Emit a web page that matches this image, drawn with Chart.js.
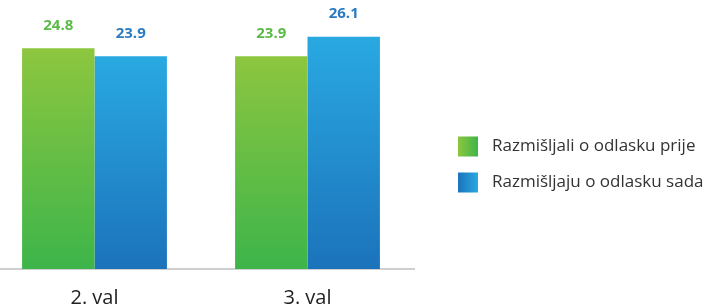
<!DOCTYPE html>
<html>
<head>
<meta charset="utf-8">
<script src="https://cdn.jsdelivr.net/npm/chart.js@4"></script>
<style>
  html, body { margin: 0; padding: 0; background: #fff; overflow: hidden; }
  .wrap { width: 716px; height: 307px; position: relative; margin-left: -12px; }
</style>
</head>
<body>
<div class="wrap"><canvas id="chart"></canvas></div>
<script>
// data
const categories = ['2. val', '3. val']
const seriesNames = ['Razmišljali o odlasku prije', 'Razmišljaju o odlasku sada']
const prije = [24.8, 23.9]
const sada = [23.9, 26.1]
const yMax = 30

// colours: [top/light, bottom/dark, label]
const greenCols = ['#8dc63f', '#3db54a', '#5cba47']
const blueCols = ['#29a9e1', '#1c73bb', '#2a7bc1']

function barFill(cols){
  return function(context){
    const chart = context.chart
    const area = chart.chartArea
    if (!area || context.raw === undefined) return cols[1]
    const top = chart.scales.y.getPixelForValue(context.raw)
    const g = chart.ctx.createLinearGradient(0, top, 0, area.bottom)
    g.addColorStop(0, cols[0])
    g.addColorStop(1, cols[1])
    return g
  }
}

// value labels above the bars
const valueLabels = {
  id: 'valueLabels',
  afterDatasetsDraw(chart){
    const ctx = chart.ctx
    ctx.save()
    ctx.font = 'bold 15px "Open Sans"'
    ctx.textAlign = 'center'
    ctx.textBaseline = 'middle'
    chart.data.datasets.forEach(function(ds, i){
      chart.getDatasetMeta(i).data.forEach(function(bar, j){
        ctx.fillStyle = ds.labelColor
        ctx.fillText(ds.data[j].toFixed(1), bar.x, bar.y - 23)
      })
    })
    ctx.restore()
  }
}

// legend on the right with gradient boxes
const sideLegend = {
  id: 'sideLegend',
  afterDraw(chart){
    const ctx = chart.ctx
    const area = chart.chartArea
    const x = area.right + 44
    let y = chart.height / 2 - 17
    ctx.save()
    ctx.font = '17px "Open Sans"'
    ctx.textBaseline = 'middle'
    chart.data.datasets.forEach(function(ds){
      const g = ctx.createLinearGradient(x, 0, x + 20, 0)
      g.addColorStop(0, ds.legendCols[0])
      g.addColorStop(1, ds.legendCols[1])
      ctx.fillStyle = g
      ctx.fillRect(x, y, 20, 20)
      ctx.fillStyle = '#333'
      ctx.fillText(ds.label, x + 34, y + 10)
      y += 36
    })
    ctx.restore()
  }
}

new Chart(document.getElementById('chart'), {
  type: 'bar',
  data: {
    labels: categories,
    datasets: [
      {
        label: seriesNames[0],
        data: prije,
        backgroundColor: barFill(greenCols),
        labelColor: greenCols[2],
        legendCols: [greenCols[0], greenCols[1]],
        categoryPercentage: 0.68,
        barPercentage: 1
      },
      {
        label: seriesNames[1],
        data: sada,
        backgroundColor: barFill(blueCols),
        labelColor: blueCols[2],
        legendCols: [blueCols[1], blueCols[0]],
        categoryPercentage: 0.68,
        barPercentage: 1
      }
    ]
  },
  options: {
    responsive: true,
    maintainAspectRatio: false,
    animation: false,
    layout: { padding: { left: 0, right: 290, top: 2, bottom: 0 } },
    plugins: {
      legend: { display: false },
      tooltip: { enabled: false }
    },
    scales: {
      x: {
        grid: { display: false, drawTicks: false },
        border: { color: '#cfcfcf', width: 2 },
        ticks: {
          color: '#222',
          padding: 17,
          font: { family: 'Open Sans', size: 20 }
        },
        afterFit(scale){ scale.height = 38 }
      },
      y: {
        display: false,
        min: 0,
        max: yMax
      }
    }
  },
  plugins: [valueLabels, sideLegend]
})
</script>
</body>
</html>
